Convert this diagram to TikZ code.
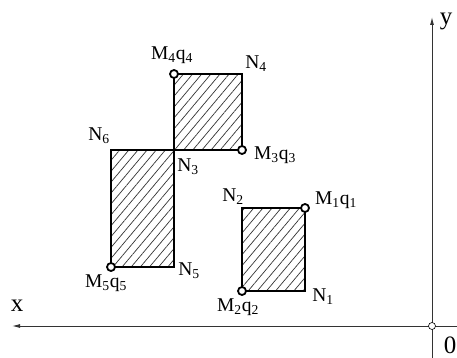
\documentclass[tikz,border=0pt]{standalone}
\usepackage{fontspec}
\setmainfont{Liberation Serif}
\usetikzlibrary{arrows.meta, patterns.meta}

\tikzset{
    hatch/.style={line width=2.4pt, pattern={Lines[angle=50, distance=7pt, line width=0.7pt]}, pattern color=black!80},
    hinge/.style={circle, draw, fill=white, inner sep=0pt, minimum size=8pt, line width=1.8pt},
    lbl/.style={inner sep=0pt, font=\fontsize{19.5}{21}\selectfont},
    axis/.style={line width=0.9pt, black!80, -{Latex[length=8pt, width=4pt]}}
}

\begin{document}
\begin{tikzpicture}[x=1pt, y=-1pt]
        \useasboundingbox (0,0) rectangle (457,358);

        % Corner points
        \coordinate (P1) at (305,208);
        \coordinate (P2) at (242,291);
        \coordinate (P3) at (242,150);
        \coordinate (P4) at (174,74);
        \coordinate (P5) at (111,267);
        \coordinate (Q3) at (174,150);

        % Draw plates
        \draw[hatch] (P2) rectangle (P1);
        \draw[hatch] (P4) rectangle (P3);
        \draw[hatch] (P5) rectangle (Q3);

        % Draw axes
        \coordinate (xr) at (457,326);
        \coordinate (xl) at (12,326);
        \coordinate (yb) at (432,358);
        \coordinate (yt) at (432,17);
        \draw[axis] (xr) -- (xl);
        \draw[axis] (yb) -- (yt);
        \node[circle, draw, fill=white, inner sep=0pt, minimum size=7pt, line width=0.6pt] (O) at (432,326) {};

        % Draw hinges
        \node[hinge] (m1) at (P1) {};
        \node[hinge] (m2) at (P2) {};
        \node[hinge] (m3) at (P3) {};
        \node[hinge] (m4) at (P4) {};
        \node[hinge] (m5) at (P5) {};

        % Labels
        \node[lbl] (t1) at (336,200) {M\textsubscript{1}q\textsubscript{1}};
        \node[lbl] (t2) at (238,307) {M\textsubscript{2}q\textsubscript{2}};
        \node[lbl] (t3) at (275,155) {M\textsubscript{3}q\textsubscript{3}};
        \node[lbl] (t4) at (172,55) {M\textsubscript{4}q\textsubscript{4}};
        \node[lbl] (t5) at (106,283) {M\textsubscript{5}q\textsubscript{5}};
        \node[lbl] (n1) at (323,297) {N\textsubscript{1}};
        \node[lbl] (n2) at (233,197) {N\textsubscript{2}};
        \node[lbl] (n3) at (188,167) {N\textsubscript{3}};
        \node[lbl] (n4) at (256,64) {N\textsubscript{4}};
        \node[lbl] (n5) at (189,271) {N\textsubscript{5}};
        \node[lbl] (n6) at (99,136) {N\textsubscript{6}};
        \node[lbl, font=\fontsize{25}{27}\selectfont] (lx) at (17,306) {x};
        \node[lbl, font=\fontsize{25}{27}\selectfont] (ly) at (446,21) {y};
        \node[lbl, font=\fontsize{25}{27}\selectfont] (l0) at (450,345) {0};
\end{tikzpicture}
\end{document}
